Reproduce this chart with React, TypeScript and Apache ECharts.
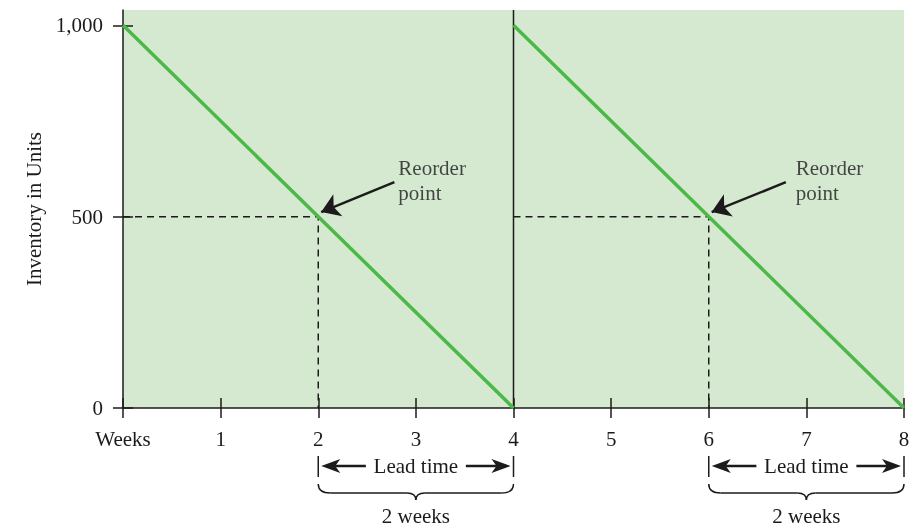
import React, { useEffect, useRef } from 'react';
import * as echarts from 'echarts';

const weekTicks = [0, 1, 2, 3, 4, 5, 6, 7, 8];
const weekLabels = ['Weeks', '1', '2', '3', '4', '5', '6', '7', '8'];
const yTickValues = [0, 500, 1000];
const yTickLabels = ['0', '500', '1,000'];
const yMax = 1040;
const cycle1: number[][] = [[0, 1000], [4, 0]];
const cycle2: number[][] = [[4, 1000], [8, 0]];
const replenish: number[][] = [[4, 0], [4, 1040]];
const reorderGuide1: number[][] = [[0, 500], [2, 500], [2, 0]];
const reorderGuide2: number[][] = [[4, 500], [6, 500], [6, 0]];
const reorderLabelAt: number[][] = [[2.82, 594], [6.89, 594]];
const reorderArrowFrom: number[][] = [[2.78, 590], [6.79, 590]];
const reorderArrowTo: number[][] = [[2.03, 512], [6.03, 512]];
const leadStart = [2, 6];
const leadEnd = [4, 8];
const leadLabel = 'Lead time';
const durationLabel = '2 weeks';
const reorderLabel = 'Reorder\npoint';

const INK = '#1c1a1b';
const GREEN = '#4cb848';
const BG = '#d5e9d0';
const FONT = 'Liberation Serif';

export default function App() {
  const ref = useRef<HTMLDivElement>(null);
  useEffect(() => {
    document.body.style.margin = '0';
    const chart = echarts.init(ref.current!, undefined, { renderer: 'svg' });
    const labelStyle = { fontFamily: FONT, fontSize: 21, color: INK };
    const option: any = {
      animation: false,
      grid: {
        left: 123, right: 5, top: 10, bottom: 120,
        outerBoundsMode: 'none', containLabel: false,
        show: true, backgroundColor: BG, borderWidth: 0,
      },
      xAxis: [
        {
          type: 'value', min: 0, max: 8, interval: 1, position: 'bottom',
          axisLine: { show: true, onZero: false, lineStyle: { color: INK, width: 1.5 } },
          axisTick: { show: true, length: 10, lineStyle: { color: INK, width: 1.5 } },
          axisLabel: {
            ...labelStyle, margin: 20,
            formatter: (v: number) => weekLabels[weekTicks.indexOf(v)] ?? '',
          },
          splitLine: { show: false },
        },
        {
          type: 'value', min: 0, max: 8, interval: 1, position: 'bottom',
          axisLine: { show: false },
          axisTick: { show: true, inside: true, length: 10, lineStyle: { color: INK, width: 1.5 } },
          axisLabel: { show: false },
          splitLine: { show: false },
        },
      ],
      yAxis: [
        {
          type: 'value', min: 0, max: yMax, position: 'left',
          name: 'Inventory in Units', nameLocation: 'middle', nameGap: 71, nameRotate: 90,
          nameTextStyle: { fontFamily: FONT, fontSize: 21, color: INK },
          axisLine: { show: true, onZero: false, lineStyle: { color: INK, width: 1.5 } },
          axisTick: { show: true, length: 10, customValues: yTickValues, lineStyle: { color: INK, width: 1.5 } },
          axisLabel: {
            ...labelStyle, margin: 20, customValues: yTickValues,
            formatter: (v: number) => yTickLabels[yTickValues.indexOf(v)] ?? '',
          },
          splitLine: { show: false },
        },
        {
          type: 'value', min: 0, max: yMax, position: 'left',
          axisLine: { show: false },
          axisTick: { show: true, inside: true, length: 10, customValues: yTickValues, lineStyle: { color: INK, width: 1.5 } },
          axisLabel: { show: false, customValues: yTickValues },
          splitLine: { show: false },
        },
      ],
      series: [
        {
          type: 'line', data: reorderGuide1, symbol: 'none', silent: true,
          lineStyle: { color: INK, width: 1.5, type: [7, 5] },
        },
        {
          type: 'line', data: reorderGuide2, symbol: 'none', silent: true,
          lineStyle: { color: INK, width: 1.5, type: [7, 5] },
        },
        {
          type: 'line', data: replenish, symbol: 'none', silent: true,
          lineStyle: { color: INK, width: 1.5 },
        },
        {
          type: 'line', data: cycle1, symbol: 'none', silent: true,
          lineStyle: { color: GREEN, width: 3.5 },
        },
        {
          type: 'line', data: cycle2, symbol: 'none', silent: true,
          lineStyle: { color: GREEN, width: 3.5 },
          markLine: {
            silent: true, animation: false,
            symbol: ['none', 'arrow'], symbolSize: 18,
            label: { show: false },
            itemStyle: { color: INK },
            lineStyle: { color: INK, width: 2.5, type: 'solid' },
            data: reorderArrowFrom.map((p, i) => [
              { coord: p }, { coord: reorderArrowTo[i] },
            ]),
          },
        },
        {
          type: 'scatter', data: reorderLabelAt, symbolSize: 0, silent: true,
          label: {
            show: true, position: 'right', distance: 0,
            formatter: () => reorderLabel,
            fontFamily: FONT, fontSize: 21, color: INK, lineHeight: 25, align: 'left',
          },
        },
      ],
    };
    chart.setOption(option);

    const px = (v: number) => chart.convertToPixel({ xAxisIndex: 0 }, v) as number;
    const graphics: any[] = [];
    const ys = { barTop: 456, barBot: 477, mid: 466, braceTop: 484, braceBot: 493, cusp: 500, text: 516 };
    const stroke = { stroke: INK, lineWidth: 1.5, fill: null };
    leadStart.forEach((a, i) => {
      const xa = px(a);
      const xb = px(leadEnd[i]);
      const xm = (xa + xb) / 2;
      graphics.push({ type: 'line', shape: { x1: xa, y1: ys.barTop, x2: xa, y2: ys.barBot }, style: stroke, silent: true });
      graphics.push({ type: 'line', shape: { x1: xb, y1: ys.barTop, x2: xb, y2: ys.barBot }, style: stroke, silent: true });
      graphics.push({ type: 'line', shape: { x1: xa + 14, y1: ys.mid, x2: xm - 50, y2: ys.mid }, style: { stroke: INK, lineWidth: 2.5 }, silent: true });
      graphics.push({ type: 'line', shape: { x1: xm + 50, y1: ys.mid, x2: xb - 14, y2: ys.mid }, style: { stroke: INK, lineWidth: 2.5 }, silent: true });
      graphics.push({
        type: 'polygon', silent: true,
        shape: { points: [[xa + 3, ys.mid], [xa + 22, ys.mid - 7], [xa + 17, ys.mid], [xa + 22, ys.mid + 7]] },
        style: { fill: INK },
      });
      graphics.push({
        type: 'polygon', silent: true,
        shape: { points: [[xb - 3, ys.mid], [xb - 22, ys.mid - 7], [xb - 17, ys.mid], [xb - 22, ys.mid + 7]] },
        style: { fill: INK },
      });
      graphics.push({
        type: 'text', silent: true, x: xm, y: ys.mid,
        style: { text: leadLabel, fontFamily: FONT, fontSize: 21, fill: INK, align: 'center', verticalAlign: 'middle' },
      });
      const r = 12;
      graphics.push({ type: 'bezierCurve', silent: true, shape: { x1: xa, y1: ys.braceTop, x2: xa + r, y2: ys.braceBot, cpx1: xa, cpy1: ys.braceBot }, style: stroke });
      graphics.push({ type: 'line', silent: true, shape: { x1: xa + r, y1: ys.braceBot, x2: xm - 9, y2: ys.braceBot }, style: stroke });
      graphics.push({ type: 'bezierCurve', silent: true, shape: { x1: xm - 9, y1: ys.braceBot, x2: xm, y2: ys.cusp, cpx1: xm, cpy1: ys.braceBot }, style: stroke });
      graphics.push({ type: 'bezierCurve', silent: true, shape: { x1: xm + 9, y1: ys.braceBot, x2: xm, y2: ys.cusp, cpx1: xm, cpy1: ys.braceBot }, style: stroke });
      graphics.push({ type: 'line', silent: true, shape: { x1: xm + 9, y1: ys.braceBot, x2: xb - r, y2: ys.braceBot }, style: stroke });
      graphics.push({ type: 'bezierCurve', silent: true, shape: { x1: xb, y1: ys.braceTop, x2: xb - r, y2: ys.braceBot, cpx1: xb, cpy1: ys.braceBot }, style: stroke });
      graphics.push({
        type: 'text', silent: true, x: xm, y: ys.text,
        style: { text: durationLabel, fontFamily: FONT, fontSize: 21, fill: INK, align: 'center', verticalAlign: 'middle' },
      });
    });
    chart.setOption({ graphic: graphics });

    return () => chart.dispose();
  }, []);
  return <div ref={ref} style={{ position: 'fixed', left: 0, top: 0, width: 909, height: 528 }} />;
}
